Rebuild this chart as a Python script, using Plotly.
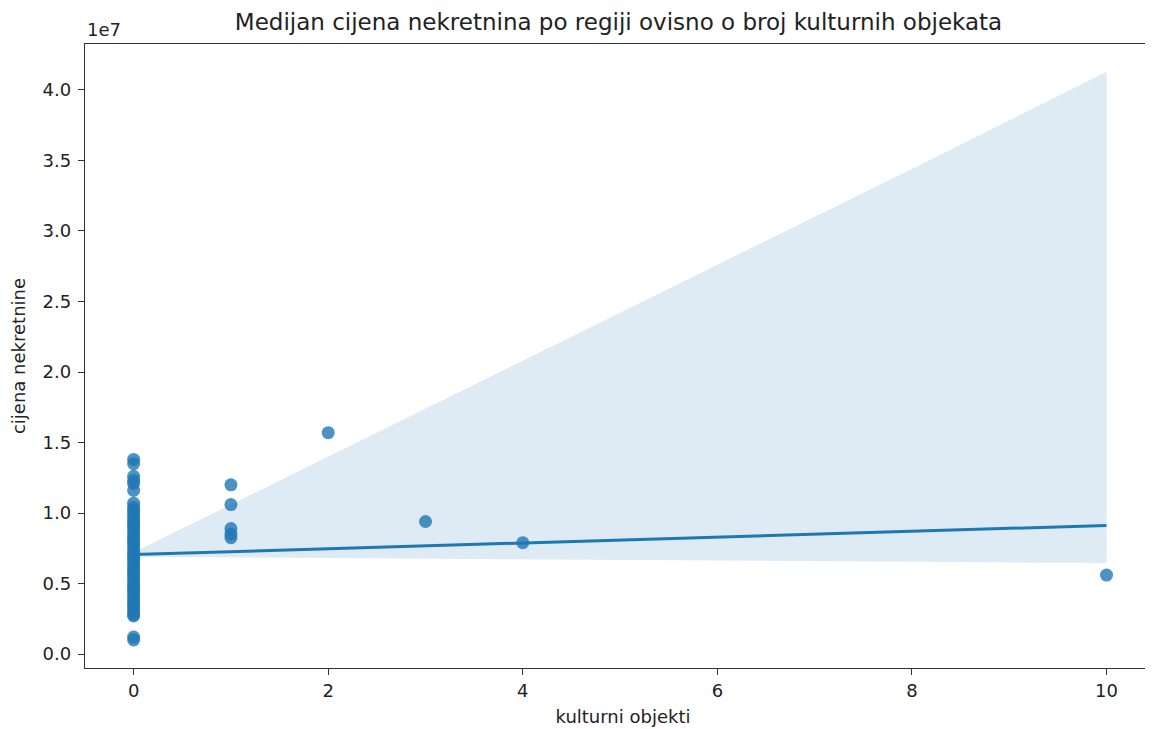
import plotly.graph_objects as go

# ---- data ----
x_zero_vals = [13.8, 13.5, 12.6, 12.3, 12.1, 11.6, 10.7, 10.4, 10.2, 10.0, 9.8, 9.6,
               9.4, 9.2, 9.0, 8.8, 8.6, 8.4, 8.2, 8.0, 7.8, 7.6, 7.4, 7.2, 7.0, 6.8,
               6.6, 6.4, 6.2, 6.0, 5.8, 5.6, 5.4, 5.2, 5.0, 4.8, 4.6, 4.4, 4.2, 4.0,
               3.8, 3.6, 3.4, 3.2, 3.0, 2.8, 2.7, 1.2, 1.0]
other_x = [1, 1, 1, 1, 1, 2, 3, 4, 10]
other_y = [12.0, 10.6, 8.9, 8.5, 8.25, 15.7, 9.4, 7.9, 5.6]

reg_x = [0, 10]
reg_y = [7.05, 9.12]

ci_x = [0, 2, 4, 6, 8, 10]
ci_upper = [7.2, 14.0, 20.8, 27.6, 34.4, 41.3]
ci_lower = [6.9, 6.8, 6.7, 6.6, 6.5, 6.45]

scale = 1e6
y_tickvals = [0.0, 0.5, 1.0, 1.5, 2.0, 2.5, 3.0, 3.5, 4.0]
y_ticktext = ["0.0", "0.5", "1.0", "1.5", "2.0", "2.5", "3.0", "3.5", "4.0"]
x_tickvals = [0, 2, 4, 6, 8, 10]

pts_x = [0] * len(x_zero_vals) + other_x
pts_y = [v * scale for v in x_zero_vals + other_y]

C0 = "#1f77b4"
FONT = "DejaVu Sans"
fig = go.Figure()

fig.add_trace(go.Scatter(
    x=pts_x, y=pts_y, mode="markers",
    marker=dict(size=13, color=C0, opacity=0.8, line=dict(width=0)),
    showlegend=False, hoverinfo="x+y"))

fig.add_trace(go.Scatter(
    x=ci_x, y=[v * scale for v in ci_lower], mode="lines",
    line=dict(width=0), showlegend=False, hoverinfo="skip"))
fig.add_trace(go.Scatter(
    x=ci_x, y=[v * scale for v in ci_upper], mode="lines",
    line=dict(width=0), fill="tonexty", fillcolor="rgba(31,119,180,0.15)",
    showlegend=False, hoverinfo="skip"))

fig.add_trace(go.Scatter(
    x=reg_x, y=[v * scale for v in reg_y], mode="lines",
    line=dict(color=C0, width=3), showlegend=False))

axis_common = dict(showgrid=False, zeroline=False, showline=True, linecolor="#333",
                   linewidth=1.3, mirror=True, ticks="outside", ticklen=6,
                   tickcolor="#333", tickwidth=1.3,
                   tickfont=dict(family=FONT, size=18, color="#222"))

fig.update_xaxes(range=[-0.5, 10.56], tickvals=x_tickvals,
                 title=dict(text="kulturni objekti",
                            font=dict(family=FONT, size=18, color="#222"),
                            standoff=10),
                 **axis_common)
fig.update_yaxes(range=[-0.099e7, 4.326e7],
                 tickvals=[v * 1e7 for v in y_tickvals], ticktext=y_ticktext,
                 ticklabelstandoff=3,
                 title=dict(text="cijena nekretnine",
                            font=dict(family=FONT, size=18, color="#222"),
                            standoff=13),
                 **axis_common)

fig.update_layout(
    width=1153, height=729,
    margin=dict(l=77, r=0, t=36, b=69, autoexpand=False),
    paper_bgcolor="white", plot_bgcolor="white",
    title=dict(text="Medijan cijena nekretnina po regiji ovisno o broj kulturnih objekata",
               x=(85 + 1152) / 2 / 1153 - 8 / 1153, xanchor="center",
               y=1 - 14 / 729, yanchor="middle",
               font=dict(family=FONT, size=23, color="#222")),
    annotations=[dict(text="1e7", x=0, y=1, xref="paper", yref="paper",
                      xanchor="left", yanchor="bottom", showarrow=False, yshift=2,
                      font=dict(family=FONT, size=18, color="#222"))],
)

fig.write_html("out.html")
